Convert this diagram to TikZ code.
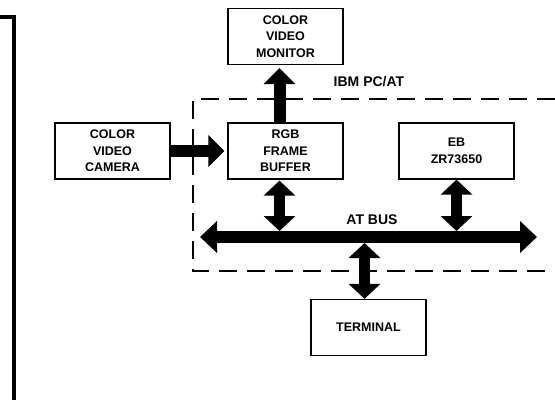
\documentclass[tikz,border=0pt]{standalone}
\usepackage{fontspec}
\setmainfont{Liberation Sans}
\usetikzlibrary{arrows.meta}

\begin{document}
\begin{tikzpicture}[x=1pt,y=-1pt,
	blk/.style={draw,line width=1.3pt,rectangle,minimum width=115pt,minimum height=56pt,align=center,font=\fontsize{12.5}{16.5}\selectfont\bfseries},
	fat/.style={line width=12pt,-{Triangle[width=31pt,length=16pt]}},
	fatboth/.style={line width=11pt,{Triangle[width=31pt,length=15pt]}-{Triangle[width=31pt,length=15pt]}},
	lbl/.style={font=\fontsize{14}{16}\selectfont\bfseries}]
			\useasboundingbox (0,0) rectangle (555,400);
			\node[blk] (MON)at(285.5,36.5) {COLOR\\VIDEO\\MONITOR};
			\node[blk] (CAM)at(112.5,151.0) {COLOR\\VIDEO\\CAMERA};
			\node[blk] (RGB)at(285.5,151.0) {RGB\\FRAME\\BUFFER};
			\node[blk] (EB)at(456.5,151.0) {EB\\ZR73650};
			\node[blk] (TERM)at(368.5,327.5) {TERMINAL};
			\node[lbl] (PCAT)at(369.0,82.0) {IBM PC/AT};
			\node[lbl] (BUS)at(372.0,220.0) {AT BUS};
			\coordinate (BL)at(200.0,237.0);
			\coordinate (BR)at(537.0,237.0);
			\draw[line width=2pt,dash pattern=on 18pt off 10pt] (555,99) -- (193,99) -- (193,271) -- (555,271);
			\draw[line width=4pt] (0,16.5) -- (14,16.5) -- (14,400);
			\draw[fat,shorten >=3pt] (CAM.east) -- (RGB.west);
			\draw[fat,shorten >=3pt] ([xshift=-6pt]RGB.north) -- ([xshift=-6pt]MON.south);
			\draw[line width=12pt,{Triangle[width=31pt,length=17pt]}-{Triangle[width=31pt,length=17pt]}] (BL) -- (BR);
			\draw[fatboth,shorten <=1pt] ([xshift=-6pt]RGB.south) -- ([xshift=-6pt,yshift=6pt]RGB.south |- BL);
			\draw[fatboth] (EB.south) -- ([yshift=6pt]EB.south |- BL);
			\draw[fatboth] ([xshift=-4pt,yshift=-6pt]TERM.north |- BL) -- ([xshift=-4pt]TERM.north);
		\end{tikzpicture}
\end{document}
